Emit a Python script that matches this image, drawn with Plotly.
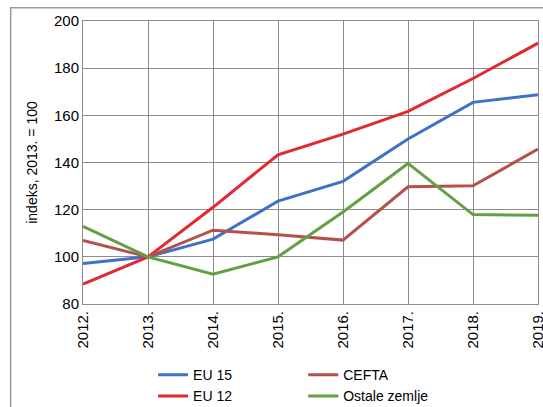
import plotly.graph_objects as go

# données : indices, 2013 = 100
godine = ["2012.", "2013.", "2014.", "2015.", "2016.", "2017.", "2018.", "2019."]
eu15 = [97.2, 100, 107.5, 123.6, 132, 150, 165.5, 168.7]
eu12 = [88.4, 100, 121, 143.3, 152, 161.7, 175.6, 190.6]
cefta = [107, 100, 111.3, 109.4, 107.1, 129.7, 130.1, 145.7]
ostale = [112.9, 100, 92.6, 100, 119, 139.6, 117.9, 117.6]

FONT = "Liberation Sans, Arial, sans-serif"

fig = go.Figure()
fig.add_trace(go.Scatter(x=godine, y=eu15, name="EU 15", mode="lines",
                         line=dict(color="#3f72c6", width=3), legend="legend"))
fig.add_trace(go.Scatter(x=godine, y=eu12, name="EU 12", mode="lines",
                         line=dict(color="#df2a2f", width=3), legend="legend"))
fig.add_trace(go.Scatter(x=godine, y=cefta, name="CEFTA", mode="lines",
                         line=dict(color="#b3514a", width=3), legend="legend2"))
fig.add_trace(go.Scatter(x=godine, y=ostale, name="Ostale zemlje", mode="lines",
                         line=dict(color="#62a046", width=3), legend="legend2"))

leg = dict(orientation="v", yanchor="top", xanchor="left",
           bgcolor="rgba(0,0,0,0)", font=dict(family=FONT, size=14, color="#000"),
           tracegroupgap=0)

fig.update_layout(
    width=543, height=407,
    margin=dict(l=83, r=5, t=21, b=103, autoexpand=False),
    paper_bgcolor="white", plot_bgcolor="white",
    font=dict(family=FONT, size=14, color="#000"),
    showlegend=True,
    legend=dict(leg, x=0.154, y=-0.195),
    legend2=dict(leg, x=0.484, y=-0.195),
    xaxis=dict(showgrid=True, gridcolor="#8c8c8c", automargin=False,
               gridwidth=1, showline=True, linecolor="#8c8c8c", ticks="",
               tickangle=-90, tickfont=dict(size=15), mirror=True, zeroline=False),
    yaxis=dict(range=[80, 200], dtick=20, showgrid=True, gridcolor="#8c8c8c",
               gridwidth=1, showline=True, linecolor="#8c8c8c", ticks="",
               automargin=False, tickfont=dict(size=15), mirror=True, zeroline=False,
               title=dict(text="indeks, 2013. = 100", font=dict(size=14), standoff=13)),
    shapes=[dict(type="rect", xref="paper", yref="paper",
                 x0=-0.159, x1=1.05, y0=-0.5, y1=1.047,
                 line=dict(color="#9a9a9a", width=1.5), layer="below")],
)

# pas de marge de page autour du graphique, pas de barre d'outils
fig.write_html("out.html", config={"displayModeBar": False},
               post_script="document.body.style.margin='0';")
